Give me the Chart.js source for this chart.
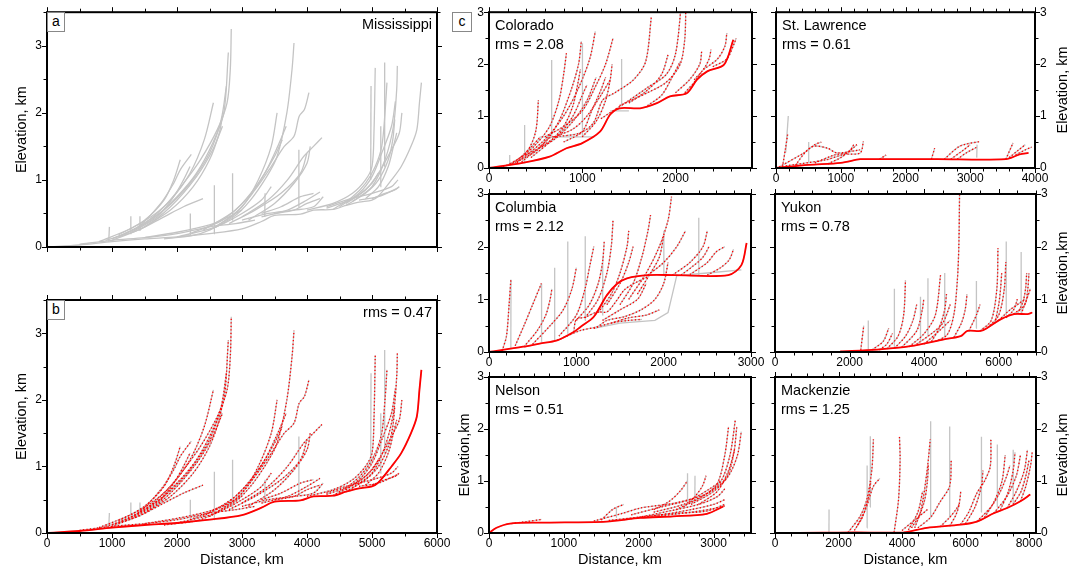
<!DOCTYPE html>
<html>
<head>
<meta charset="utf-8">
<script src="https://cdn.jsdelivr.net/npm/chart.js@4.4.1/dist/chart.umd.min.js"></script>
<style>
  body { margin: 0; background: #fff; }
  #page { position: relative; width: 1081px; height: 571px; overflow: hidden; font-family: "Liberation Sans", Arial, sans-serif; }
  #page canvas { position: absolute; left: 0; top: 0; }
  .lbl { position: absolute; font-size: 14.5px; color: #000; white-space: nowrap; line-height: 1; }
  .box { position: absolute; border: 1px solid #888; font-size: 14px; text-align: center; line-height: 17px; background: #fff; }
  .rt { position: absolute; font-size: 14.5px; white-space: nowrap; transform: translate(-50%, -50%) rotate(-90deg); }
</style>
</head>
<body>
<div id="page"></div>
<script>
// profiles: flat lists of distance (km), elevation (km) pairs
// spikes: gray-only steep headwater pieces

// ---- Mississippi
const missTrunk = [0,0, 500,0.03, 1000,0.08, 1500,0.12, 2000,0.15, 2500,0.2, 3000,0.27, 3300,0.38, 3500,0.47, 3900,0.49, 4100,0.55, 4400,0.56, 4600,0.62, 4800,0.67, 5000,0.7, 5100,0.76, 5300,1.0, 5450,1.2, 5600,1.5, 5690,1.75, 5730,2.15, 5760,2.45];
const missTribs = [
  [800,0.08, 1300,0.28, 1600,0.45, 1850,0.65, 2100,0.95, 2360,1.3, 2620,1.75, 2770,2.15, 2820,2.65, 2835,3.25],
  [1200,0.2, 1600,0.4, 2000,0.75, 2300,1.1, 2550,1.55, 2720,2.0, 2790,2.9],
  [1100,0.15, 1500,0.35, 1900,0.7, 2200,1.1, 2420,1.6, 2560,2.15],
  [1000,0.12, 1400,0.3, 1750,0.65, 1950,0.95, 2050,1.15, 2220,1.38],
  [1300,0.22, 1700,0.45, 1950,0.75, 2100,1.0, 2200,1.2],
  [1500,0.3, 1900,0.55, 2250,0.9, 2500,1.3, 2650,1.7, 2700,1.95],
  [900,0.1, 1400,0.25, 1800,0.45, 2100,0.6, 2400,0.72],
  [1100,0.18, 1500,0.4, 1800,0.7, 1950,1.0, 2050,1.3],
  [1000,0.1, 1500,0.3, 1900,0.6, 2300,1.05, 2550,1.45, 2700,1.8],
  [1400,0.3, 1800,0.55, 2200,0.95, 2500,1.4, 2680,1.9, 2760,2.4],
  [1800,0.12, 2360,0.2, 2870,0.45, 3130,0.7, 3380,1.05, 3540,1.35, 3690,2.0, 3770,2.65, 3800,3.04],
  [2500,0.25, 2900,0.5, 3200,0.85, 3450,1.2, 3650,1.5, 3800,1.65, 3880,1.95, 3960,2.05, 4030,2.3],
  [2600,0.3, 3000,0.6, 3250,1.0, 3450,1.5, 3540,2.0],
  [3000,0.45, 3400,0.7, 3700,1.0, 3950,1.35, 4100,1.5, 4230,1.63],
  [3100,0.4, 3500,0.65, 3800,0.95, 4000,1.25, 4050,1.5],
  [3300,0.45, 3700,0.55, 4000,0.7, 4200,0.82],
  [2000,0.15, 2600,0.3, 3000,0.5, 3300,0.7, 3450,0.9],
  [2200,0.2, 2700,0.4, 3100,0.75, 3350,1.1, 3550,1.5, 3680,1.8],
  [2400,0.25, 2900,0.55, 3250,0.95, 3500,1.35, 3620,1.6],
  [2800,0.35, 3200,0.55, 3600,0.8, 3900,1.1, 4000,1.4],
  [3300,0.5, 3600,0.6, 3900,0.75, 4100,0.8],
  [3000,0.4, 3400,0.5, 3800,0.55, 4100,0.6, 4250,0.75],
  [500,0.04, 1000,0.1, 1500,0.14, 2000,0.2, 2500,0.3, 2900,0.35, 3200,0.4],
  [1500,0.14, 2000,0.22, 2500,0.33, 2800,0.45, 3000,0.55],
  [4400,0.56, 4700,0.75, 4900,0.95, 5050,1.2, 5150,1.5, 5200,2.0, 5230,2.45],
  [4500,0.6, 4800,0.8, 5000,1.05, 5150,1.4, 5300,1.8, 5360,2.17],
  [4600,0.65, 4900,0.85, 5100,1.1, 5300,1.45, 5420,1.7, 5460,2.0],
  [4700,0.68, 5000,0.9, 5200,1.3, 5330,1.8, 5380,2.35, 5390,2.7],
  [4000,0.55, 4400,0.65, 4700,0.8, 4900,1.0, 5000,1.2, 5030,1.7, 5050,2.67],
  [4800,0.7, 5100,0.75, 5400,0.88],
  [4300,0.6, 4600,0.7, 5000,0.8, 5300,0.9, 5400,1.0],
  [3500,0.5, 3800,0.55, 4000,0.65, 4200,0.72],
  [4600,0.62, 4900,0.8, 5100,1.0, 5250,1.3, 5320,1.6, 5350,1.9],
  [4900,0.72, 5100,0.9, 5250,1.2, 5330,1.5, 5380,1.7],
  [4300,0.58, 4600,0.68, 4800,0.78, 5000,0.95, 5100,1.1],
  [5000,0.72, 5200,0.8, 5350,0.85, 5420,0.9]
];
const missSpikes = [
  [950,0.08, 960,0.3], [1280,0.2, 1290,0.46], [1420,0.25, 1430,0.46], [2570,0.2, 2575,0.92],
  [2850,0.4, 2855,1.1], [3350,0.45, 3355,0.8], [3870,0.6, 3875,1.45], [4980,1.0, 4985,2.4],
  [5190,1.2, 5195,2.75], [5130,0.9, 5135,1.8], [2200,0.18, 2205,0.5]
];

// ---- Colorado
const coloTrunk = [0,0, 360,0.1, 650,0.22, 830,0.38, 1000,0.48, 1190,0.7, 1300,1.03, 1400,1.15, 1620,1.15, 1800,1.25, 1940,1.38, 2120,1.44, 2230,1.7, 2340,1.86, 2520,1.99, 2620,2.47];
const coloTribs = [
  [250,0.08, 500,0.32, 650,0.58, 760,0.61, 970,0.67, 1120,0.87, 1220,1.31, 1350,1.45, 1550,1.7, 1680,2.05, 1740,2.9],
  [1200,0.95, 1500,1.3, 1700,1.55, 1900,1.8, 2000,2.2, 2060,3.1],
  [1400,1.2, 1700,1.45, 1900,1.65, 2050,2.0, 2100,2.5, 2110,3.1],
  [1500,1.25, 1700,1.5, 1850,1.8, 1920,2.18],
  [2000,1.45, 2150,1.7, 2260,2.0, 2280,2.24],
  [2200,1.7, 2300,1.9, 2360,2.1, 2380,2.28],
  [2300,1.9, 2450,2.1, 2530,2.35, 2550,2.6],
  [2400,1.95, 2550,2.1, 2630,2.4, 2650,2.5],
  [300,0.1, 600,0.55, 800,1.0, 950,1.5, 1080,2.1, 1140,2.63],
  [350,0.12, 600,0.5, 750,0.9, 880,1.5, 960,2.0, 990,2.44],
  [300,0.12, 500,0.45, 650,0.8, 750,1.3, 800,1.8, 830,2.21],
  [600,0.6, 800,0.8, 1000,1.1, 1150,1.6, 1250,2.0, 1330,2.5],
  [200,0.05, 400,0.3, 500,0.7, 530,1.31],
  [700,0.6, 900,0.75, 1050,1.0, 1200,1.4, 1300,1.7],
  [400,0.25, 700,0.55, 900,0.9, 1050,1.3, 1150,1.75],
  [450,0.2, 650,0.5, 800,0.8, 900,1.2, 950,1.6, 980,1.9],
  [550,0.4, 750,0.65, 900,1.0, 1000,1.4, 1050,1.6],
  [800,0.5, 1000,0.7, 1100,1.1, 1200,1.5, 1250,1.75],
  [1000,0.6, 1150,0.9, 1250,1.3, 1300,1.7, 1320,2.0],
  [1700,1.2, 1850,1.4, 1950,1.7, 2050,2.05],
  [2100,1.45, 2200,1.65, 2280,1.85],
  [150,0.02, 300,0.15, 450,0.4, 550,0.6]
];
const coloSpikes = [
  [670,0.6, 672,2.08], [380,0.1, 382,0.83], [1000,0.6, 1002,2.4], [550,0.6, 1130,0.6],
  [1300,1.1, 1500,1.1], [1420,1.2, 1422,2.1], [220,0.05, 222,0.25]
];

// ---- St. Lawrence
const stlTrunk = [0,0, 500,0.06, 1000,0.1, 1300,0.17, 1400,0.17, 2500,0.17, 3550,0.17, 3760,0.26, 3900,0.29];
const stlTribs = [
  [50,0.02, 430,0.29, 580,0.42, 800,0.38, 940,0.29, 1300,0.35],
  [150,0.04, 780,0.16, 1040,0.26, 1300,0.29, 1350,0.51],
  [100,0.02, 150,0.4, 180,0.65],
  [300,0.05, 450,0.3, 600,0.45, 700,0.5],
  [2600,0.17, 2840,0.42, 3140,0.51],
  [2700,0.17, 2900,0.35, 3000,0.45],
  [3550,0.17, 3660,0.48],
  [3600,0.2, 3750,0.35, 3850,0.45],
  [1600,0.17, 1700,0.25],
  [2400,0.17, 2450,0.38],
  [600,0.1, 900,0.25, 1100,0.3, 1250,0.45],
  [800,0.08, 1000,0.2, 1150,0.35, 1200,0.45],
  [2800,0.17, 2950,0.3, 3100,0.4],
  [3700,0.25, 3850,0.35, 3950,0.4]
];
const stlSpikes = [[150,0.3, 190,1.0], [500,0.1, 505,0.5], [3100,0.2, 3105,0.45]];

// ---- Columbia
const columTrunk = [0,0, 390,0.1, 580,0.16, 780,0.22, 970,0.38, 1050,0.48, 1200,0.67, 1350,1.08, 1470,1.3, 1580,1.4, 1820,1.46, 2120,1.46, 2740,1.46, 2890,1.65, 2950,2.07];
const columTribs = [
  [970,0.38, 1000,0.62, 1100,0.66, 1240,0.76, 1350,0.76, 1450,0.95, 1550,1.18, 1660,1.3, 1820,1.43],
  [780,0.22, 1050,0.41, 1240,0.48, 1350,0.6, 1550,0.67, 1740,0.8, 1900,1.0, 2000,1.3, 2050,1.7],
  [150,0.02, 200,0.3, 230,0.9, 250,1.37],
  [300,0.12, 400,0.5, 500,0.9, 600,1.3],
  [500,0.15, 700,0.5, 850,0.8, 950,1.2, 1000,1.6],
  [800,0.3, 1000,0.7, 1100,1.2, 1150,1.6, 1200,2.0],
  [1100,0.65, 1250,1.0, 1350,1.5, 1400,2.0, 1420,2.5],
  [1250,0.75, 1400,1.1, 1500,1.5, 1580,2.0, 1600,2.3],
  [1500,0.9, 1650,1.3, 1750,1.8, 1820,2.3, 1850,2.6],
  [1600,1.0, 1800,1.5, 1950,2.0, 2050,2.5, 2090,2.95],
  [1820,1.46, 2000,1.7, 2150,2.0, 2250,2.3],
  [2100,1.46, 2300,1.7, 2450,2.0, 2500,2.3],
  [2300,1.47, 2500,1.7, 2600,1.9, 2700,2.0],
  [1300,0.6, 1500,0.8, 1700,1.0, 1800,1.3],
  [400,0.1, 550,0.4, 650,0.7, 700,1.0, 720,1.2],
  [1000,0.6, 1150,0.9, 1250,1.3, 1300,1.7, 1320,2.1],
  [1350,0.9, 1500,1.3, 1600,1.7, 1650,2.0],
  [1700,1.1, 1850,1.5, 1950,1.8, 2000,2.2],
  [2200,1.46, 2350,1.65, 2450,1.8, 2520,2.0],
  [2500,1.46, 2650,1.6, 2750,1.75, 2800,1.95],
  [1400,0.55, 1600,0.65, 1800,0.7, 1950,0.8],
  [1200,0.45, 1400,0.55, 1600,0.6, 1750,0.62]
];
const columSpikes = [
  [1200,0.45, 1500,0.55, 1900,0.6, 2050,0.75, 2100,1.1, 2150,1.45, 2500,1.5, 2890,1.56],
  [900,0.35, 902,2.1], [1100,0.6, 1102,2.2], [750,0.2, 752,1.6], [2000,1.46, 2002,2.3],
  [2400,1.46, 2402,2.55], [1300,0.7, 1302,1.8], [250,0.05, 252,1.37], [600,0.2, 602,1.3]
];

// ---- Yukon
const yukTrunk = [1750,0.01, 2740,0.045, 3630,0.11, 4530,0.24, 4980,0.3, 5160,0.4, 5520,0.4, 5700,0.46, 6050,0.62, 6410,0.72, 6770,0.72, 6900,0.75];
const yukTribs = [
  [4300,0.2, 4620,0.33, 4800,0.72, 4890,1.36, 4930,2.0, 4950,3.0],
  [3000,0.06, 3300,0.3, 3450,0.7, 3500,1.36],
  [3400,0.09, 3800,0.4, 3950,0.8, 3990,1.0],
  [3600,0.1, 4000,0.35, 4300,0.7, 4440,1.46],
  [3800,0.15, 4200,0.35, 4500,0.55, 4700,0.9],
  [5500,0.4, 5800,0.6, 5950,1.2, 5980,1.97],
  [5700,0.46, 6000,0.7, 6150,1.2, 6190,1.71],
  [6400,0.72, 6700,0.9, 6780,1.2, 6810,1.49],
  [2300,0.04, 2380,0.5],
  [2600,0.04, 2900,0.2, 3050,0.45],
  [4000,0.15, 4400,0.4, 4700,0.6],
  [5200,0.4, 5400,0.7, 5500,0.9],
  [6000,0.6, 6300,0.8, 6500,0.9, 6700,1.0],
  [6600,0.72, 6750,1.0, 6850,1.2],
  [3200,0.07, 3500,0.3, 3700,0.6, 3800,0.9],
  [4200,0.2, 4400,0.45, 4550,0.8, 4600,1.1],
  [4800,0.28, 5000,0.55, 5100,0.8, 5150,1.1],
  [5900,0.55, 6000,0.9, 6050,1.2, 6080,1.5],
  [6500,0.72, 6650,0.95, 6720,1.2, 6750,1.5],
  [6200,0.65, 6400,0.8, 6500,1.0],
  [2800,0.04, 3000,0.15, 3150,0.35]
];
const yukSpikes = [
  [3200,0.1, 3202,1.2], [4100,0.3, 4102,1.4], [5400,0.45, 5402,1.35], [6200,0.7, 6202,2.1],
  [6600,0.75, 6602,1.9], [4550,0.3, 4552,1.5], [2500,0.05, 2502,0.6], [3900,0.2, 3902,1.05]
];

// ---- Nelson
const nelTrunk = [0,0, 100,0.1, 280,0.18, 680,0.2, 1570,0.22, 2020,0.29, 2460,0.32, 2910,0.37, 3130,0.51];
const nelTribs = [
  [1400,0.23, 1790,0.38, 2020,0.48, 2460,0.57, 2810,0.7, 3000,0.83, 3180,1.08, 3270,1.53, 3310,2.04],
  [2200,0.4, 2600,0.55, 2900,0.75, 3100,1.0, 3220,1.5, 3290,2.17],
  [2500,0.45, 2850,0.7, 3050,0.95, 3150,1.5, 3200,2.04],
  [2700,0.55, 3000,0.8, 3200,1.1, 3320,1.5, 3370,1.95],
  [1800,0.26, 2300,0.35, 2700,0.45, 3000,0.55, 3150,0.64],
  [1600,0.24, 2100,0.32, 2500,0.38, 2900,0.42, 3150,0.55],
  [1500,0.25, 1650,0.45, 1800,0.55],
  [2200,0.45, 2400,0.6, 2550,0.8, 2650,1.0],
  [2600,0.5, 2750,0.7, 2850,0.9, 2900,1.1],
  [2000,0.3, 2400,0.42, 2800,0.55, 3050,0.7, 3150,0.85],
  [1900,0.35, 2300,0.5, 2700,0.65, 2950,0.85, 3100,1.0],
  [2800,0.55, 3050,0.8, 3200,1.2, 3280,1.6],
  [300,0.18, 500,0.22, 700,0.26],
  [2300,0.33, 2700,0.4, 3000,0.47, 3150,0.52]
];
const nelSpikes = [[2650,0.6, 2652,1.15], [2750,0.65, 2752,1.1], [1700,0.3, 1702,0.5]];

// ---- Mackenzie
const mackTrunk = [0,0, 1500,0.005, 2500,0.01, 4050,0.01, 4780,0.1, 5840,0.16, 6360,0.22, 6890,0.38, 7310,0.48, 7730,0.61, 8040,0.74];
const mackTribs = [
  [2300,0.01, 2680,0.32, 2890,0.64, 3050,1.22, 3100,1.8],
  [2600,0.15, 2850,0.45, 3100,0.9, 3300,1.05],
  [3750,0.01, 3890,0.64, 3940,1.41, 3920,1.85],
  [4300,0.1, 4570,0.38, 4780,1.15, 4890,1.8],
  [4500,0.1, 4900,0.3, 5200,0.6, 5500,0.9, 5550,1.4],
  [5840,0.16, 6100,0.4, 6360,0.77, 6600,1.0, 6780,1.28, 6800,1.8],
  [6360,0.22, 6800,0.5, 7100,0.8, 7300,1.1, 7400,1.3],
  [6890,0.38, 7300,0.7, 7600,1.1, 7730,1.5],
  [7310,0.48, 7600,0.8, 7850,1.2, 7950,1.6],
  [7730,0.61, 7900,0.9, 8050,1.3, 8100,1.55],
  [5200,0.12, 5500,0.3, 5700,0.45, 5800,0.55],
  [4000,0.05, 4300,0.2, 4600,0.35, 4800,0.45],
  [2500,0.05, 2750,0.3, 2950,0.7, 3020,1.0],
  [4400,0.1, 4700,0.6, 4800,1.0, 4830,1.3],
  [6000,0.18, 6300,0.5, 6500,0.9, 6550,1.2],
  [6600,0.3, 6900,0.6, 7150,1.0, 7250,1.5],
  [7100,0.45, 7350,0.8, 7500,1.2, 7560,1.55],
  [7500,0.55, 7750,0.8, 7900,1.1, 8000,1.4],
  [5500,0.13, 5700,0.35, 5800,0.55, 5850,0.8],
  [4200,0.06, 4500,0.4, 4650,0.8]
];
const mackSpikes = [
  [1700,0.0, 1702,0.45], [3000,0.5, 3002,1.86], [4900,0.3, 4902,2.15], [5500,0.3, 5502,2.05],
  [6500,0.4, 6502,1.85], [7000,0.5, 7002,1.7], [2900,0.1, 2902,1.3], [7500,0.55, 7502,1.6]
];

const W = 1081, H = 571;
const FONT = '"Liberation Sans", Arial, sans-serif';
const GRAY = '#c4c4c4';
const RED = '#ff0000';

const panels = [
  { trunk: missTrunk, tribs: missTribs, spikes: missSpikes, model: false, box: [47, 12, 437, 247], xMax: 6000, yMax: 3.5, xStep: 1000, xMinor: 500, side: 'left', xLabels: false, axw: 34, axh: 20, yTitle: 'Elevation, km' },
  { trunk: missTrunk, tribs: missTribs, spikes: missSpikes, model: true, box: [47, 300, 437, 533], xMax: 6000, yMax: 3.5, xStep: 1000, xMinor: 500, side: 'left', xLabels: true, axw: 34, axh: 36, yTitle: 'Elevation, km', xTitle: 'Distance, km' },
  { trunk: coloTrunk, tribs: coloTribs, spikes: coloSpikes, model: true, box: [489, 12, 752, 168], xMax: 2820, yMax: 3, xStep: 1000, xMinor: 200, side: 'left', xLabels: true, axw: 30, axh: 20 },
  { trunk: stlTrunk, tribs: stlTribs, spikes: stlSpikes, model: true, box: [776, 12, 1035, 168], xMax: 4000, yMax: 3, xStep: 1000, xMinor: 200, side: 'right', xLabels: true, axw: 30, axh: 20 },
  { trunk: columTrunk, tribs: columTribs, spikes: columSpikes, model: true, box: [489, 194, 751, 352], xMax: 3000, yMax: 3, xStep: 1000, xMinor: 200, side: 'left', xLabels: true, axw: 30, axh: 20 },
  { trunk: yukTrunk, tribs: yukTribs, spikes: yukSpikes, model: true, box: [775, 194, 1036, 352], xMax: 7000, yMax: 3, xStep: 2000, xMinor: 500, side: 'right', xLabels: true, axw: 30, axh: 20 },
  { trunk: nelTrunk, tribs: nelTribs, spikes: nelSpikes, model: true, box: [489, 377, 751, 533], xMax: 3500, yMax: 3, xStep: 1000, xMinor: 200, side: 'left', xLabels: true, axw: 33, axh: 36, yTitle: 'Elevation,km', xTitle: 'Distance, km' },
  { trunk: mackTrunk, tribs: mackTribs, spikes: mackSpikes, model: true, box: [775, 377, 1036, 533], xMax: 8220, yMax: 3, xStep: 2000, xMinor: 500, side: 'right', xLabels: true, axw: 30, axh: 36, xTitle: 'Distance, km' }
];

const labels = [
  { cls: 'box', text: 'a', x: 47, y: 12, w: 16, h: 18 },
  { cls: 'box', text: 'b', x: 47, y: 300, w: 16, h: 18 },
  { cls: 'box', text: 'c', x: 452, y: 12, w: 18, h: 18 },
  { cls: 'lbl', text: 'Mississippi', right: 1081 - 432, y: 17 },
  { cls: 'lbl', text: 'rms = 0.47', right: 1081 - 432, y: 305 },
  { cls: 'lbl', text: 'Colorado', x: 495, y: 18 },
  { cls: 'lbl', text: 'rms = 2.08', x: 495, y: 37 },
  { cls: 'lbl', text: 'St. Lawrence', x: 782, y: 18 },
  { cls: 'lbl', text: 'rms = 0.61', x: 782, y: 37 },
  { cls: 'lbl', text: 'Columbia', x: 495, y: 200 },
  { cls: 'lbl', text: 'rms = 2.12', x: 495, y: 219 },
  { cls: 'lbl', text: 'Yukon', x: 781, y: 200 },
  { cls: 'lbl', text: 'rms = 0.78', x: 781, y: 219 },
  { cls: 'lbl', text: 'Nelson', x: 495, y: 383 },
  { cls: 'lbl', text: 'rms = 0.51', x: 495, y: 402 },
  { cls: 'lbl', text: 'Mackenzie', x: 781, y: 383 },
  { cls: 'lbl', text: 'rms = 1.25', x: 781, y: 402 },
  { cls: 'rt', text: 'Elevation, km', x: 1062, y: 90 },
  { cls: 'rt', text: 'Elevation,km', x: 1062, y: 273 },
  { cls: 'rt', text: 'Elevation,km', x: 1062, y: 455 }
];

function toPts(a) {
  const r = [];
  for (let i = 0; i < a.length; i += 2) r.push({ x: a[i], y: a[i + 1] });
  return r;
}

function stepTicks(max, step) {
  const t = [];
  for (let v = 0; v <= max + 1e-6; v += step) t.push({ value: v });
  return t;
}

// frame + outward ticks on all four sides
const framePlugin = {
  id: 'frame',
  afterDraw(chart, args, o) {
    const { ctx, chartArea: a, scales: { x, y } } = chart;
    const isMajor = (v, s) => Math.abs(v / s - Math.round(v / s)) < 1e-6;
    ctx.save();
    ctx.strokeStyle = '#000';
    ctx.lineWidth = 1;
    ctx.beginPath();
    for (let v = 0; v <= x.max + 1e-6; v += o.xMinor) {
      const px = Math.round(x.getPixelForValue(v)) + 0.5;
      const len = isMajor(v, o.xMajor) ? 4 : 2.5;
      ctx.moveTo(px, a.bottom); ctx.lineTo(px, a.bottom + 1 + len);
      ctx.moveTo(px, a.top); ctx.lineTo(px, a.top - 1 - len);
    }
    for (let v = 0; v <= y.max + 1e-6; v += 0.5) {
      const py = Math.round(y.getPixelForValue(v)) + 0.5;
      const len = isMajor(v, 1) ? 4 : 2.5;
      ctx.moveTo(a.left, py); ctx.lineTo(a.left - 1 - len, py);
      ctx.moveTo(a.right, py); ctx.lineTo(a.right + 1 + len, py);
    }
    ctx.stroke();
    ctx.lineWidth = 2;
    ctx.strokeRect(a.left, a.top, a.right - a.left, a.bottom - a.top);
    ctx.restore();
  }
};

function makePanel(p) {
  const cv = document.createElement('canvas');
  cv.width = W; cv.height = H;
  cv.style.width = W + 'px'; cv.style.height = H + 'px';
  document.getElementById('page').appendChild(cv);

  const [L, T, R, B] = p.box;
  const pad = {
    top: T,
    bottom: H - B - p.axh,
    left: p.side === 'left' ? L - p.axw : L,
    right: p.side === 'left' ? W - R : W - R - p.axw
  };

  const datasets = [];
  p.tribs.concat([p.trunk]).forEach(t => {
    datasets.push({ data: toPts(t), showLine: true, borderColor: GRAY, borderWidth: 1.3, pointRadius: 0, tension: 0.3, order: 3 });
  });
  p.spikes.forEach(s => {
    datasets.push({ data: toPts(s), showLine: true, borderColor: GRAY, borderWidth: 1.3, pointRadius: 0, tension: 0, order: 3 });
  });
  if (p.model) {
    p.tribs.forEach(t => {
      datasets.push({ data: toPts(t), showLine: true, borderColor: RED, borderWidth: 1.3, borderDash: [1.3, 2.2], pointRadius: 0, tension: 0.3, order: 2 });
    });
    datasets.push({ data: toPts(p.trunk), showLine: true, borderColor: RED, borderWidth: 1.8, pointRadius: 0, tension: 0.3, order: 1 });
  }

  new Chart(cv, {
    type: 'scatter',
    data: { datasets },
    options: {
      responsive: false,
      animation: false,
      events: [],
      layout: { padding: pad },
      plugins: {
        legend: { display: false },
        tooltip: { enabled: false },
        frame: { xMajor: p.xStep, xMinor: p.xMinor }
      },
      scales: {
        x: {
          type: 'linear', position: 'bottom', min: 0, max: p.xMax,
          grid: { display: false, drawTicks: false }, border: { display: false },
          afterBuildTicks(s) { s.ticks = stepTicks(p.xMax, p.xStep); },
          ticks: { display: p.xLabels, autoSkip: false, maxRotation: 0, padding: 3, color: '#000', font: { family: FONT, size: 12 }, callback: v => String(v) },
          title: { display: !!p.xTitle, text: p.xTitle || '', color: '#000', padding: 0, font: { family: FONT, size: 14.5 } },
          afterFit(s) { s.height = p.axh; }
        },
        y: {
          type: 'linear', position: p.side, min: 0, max: p.yMax,
          grid: { display: false, drawTicks: false }, border: { display: false },
          afterBuildTicks(s) { s.ticks = stepTicks(p.yMax, 1); },
          ticks: { padding: 5, color: '#000', font: { family: FONT, size: 12 }, callback: v => String(v) },
          title: { display: !!p.yTitle, text: p.yTitle || '', color: '#000', padding: 0, font: { family: FONT, size: 14.5 } },
          afterFit(s) { s.width = p.axw; }
        }
      }
    },
    plugins: [framePlugin]
  });
}

panels.forEach(makePanel);

labels.forEach(l => {
  const d = document.createElement('div');
  d.className = l.cls;
  d.textContent = l.text;
  d.style.top = l.y + 'px';
  if (l.right !== undefined) d.style.right = l.right + 'px';
  else d.style.left = l.x + 'px';
  if (l.w) { d.style.width = l.w + 'px'; d.style.height = l.h + 'px'; }
  document.getElementById('page').appendChild(d);
});
</script>
</body>
</html>
